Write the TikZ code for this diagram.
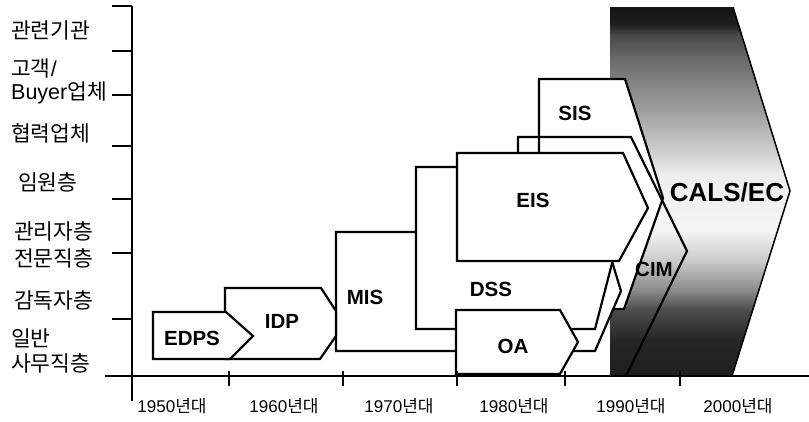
\documentclass[tikz,border=0pt]{standalone}
\usepackage{fontspec}
\setmainfont{Liberation Sans}
\newfontfamily\kr{Noto Sans CJK KR}
\newcommand{\yrtext}[1]{#1{\kr 년대}}
\begin{document}
\begin{tikzpicture}[x=1pt,y=-1pt,
  box/.style={draw=black,line width=2.2pt,fill=white,line join=miter},
  lbl/.style={font=\fontsize{20.5}{22}\selectfont\bfseries,inner sep=0pt},
  side/.style={font=\fontsize{21.5}{23}\selectfont\kr,anchor=west,inner sep=0pt},
  yearlbl/.style={font=\fontsize{17}{19}\selectfont,inner sep=0pt},
  axisline/.style={line width=1.4pt}]
\useasboundingbox (0,0) rectangle (809,421);

% CALS/EC band with vertical grey gradient (drawn as thin strips)
\begin{scope}
\clip (610,7) -- (733,7) -- (790,191) -- (732,376) -- (610,376) -- cycle;
\foreach \ya/\ga/\yb/\gb in {7/92/25/88, 25/88/35/72, 35/72/60/58, 60/58/110/38,
   110/38/150/20, 150/20/175/7, 175/7/230/4, 230/4/260/20, 260/20/290/45,
   290/45/310/70, 310/70/340/85, 340/85/376/88}{
  \pgfmathtruncatemacro{\nst}{max(1,(\yb-\ya)/2)}
  \foreach \k in {1,...,\nst}{
    \pgfmathsetmacro{\yc}{\ya+(\k-1)*(\yb-\ya)/\nst}
    \pgfmathsetmacro{\yd}{\yc+(\yb-\ya)/\nst+0.7}
    \pgfmathsetmacro{\gc}{\ga+(\k-0.5)*(\gb-\ga)/\nst}
    \fill[black!\gc] (600,\yc) rectangle (800,\yd);
  }
}
\end{scope}
\draw[line width=1.5pt] (733,7) -- (790,191) -- (732,376);

% SIS
\draw[box] (539,309) -- (539,79) -- (625,79) -- (663,198) -- (624,309) -- cycle;
% CIM (outline only)
\draw[line width=2.2pt] (518,376) -- (518,137) -- (631,137) -- (687,251) -- (626,376);
% MIS
\draw[box] (336,232) -- (603,232) -- (621,291) -- (595,351) -- (336,351) -- cycle;
% DSS
\draw[box] (416,167) -- (595,167) -- (616,248) -- (595,329) -- (416,329) -- cycle;
% EIS
\draw[box] (457,153) -- (623,153) -- (648,208) -- (619,261) -- (457,261) -- cycle;
% OA
\draw[box] (456,310) -- (560,310) -- (578,342) -- (560,374) -- (456,374) -- cycle;
% IDP
\draw[box] (225,288) -- (321,288) -- (336,311) -- (336,336) -- (320,359) -- (225,359) -- cycle;
% EDPS
\draw[box] (153,312) -- (226,312) -- (253,336) -- (230,359) -- (153,359) -- cycle;

% axes
\draw[axisline] (105,376) -- (809,376);
\draw[axisline] (132,6) -- (132,401);
\foreach \yy in {6,51,95,146,199,253,319} \draw[axisline] (112,\yy) -- (132,\yy);
\foreach \xx in {229,343,457,565,680} \draw[axisline] (\xx,371) -- (\xx,386);

% system labels
\node[lbl] (edps) at (192,338) {EDPS};
\node[lbl] (idp) at (282,321) {IDP};
\node[lbl] (mis) at (365,297) {MIS};
\node[lbl] (dss) at (491,289) {DSS};
\node[lbl] (oa) at (513,346) {OA};
\node[lbl] (eis) at (533,200) {EIS};
\node[lbl] (sis) at (575,113) {SIS};
\node[lbl] (cim) at (654,269) {CIM};
\node[lbl,font=\fontsize{26}{28}\selectfont\bfseries] (cals) at (727,192) {CALS/EC};

% level labels
\node[side] (l1) at (11,30) {관련기관};
\node[side] (l2a) at (11,68) {고객{\rmfamily /}};
\node[side] (l2b) at (11,93) {{\rmfamily Buyer}업체};
\node[side] (l3) at (11,133) {협력업체};
\node[side] (l4) at (18,182) {임원층};
\node[side] (l5) at (14,231) {관리자층};
\node[side] (l6) at (14,258) {전문직층};
\node[side] (l7) at (14,300) {감독자층};
\node[side] (l8) at (11,338) {일반};
\node[side] (l9) at (11,363) {사무직층};

% decade labels
\node[yearlbl] (y50) at (172,406) {\yrtext{1950}};
\node[yearlbl] (y60) at (284,406) {\yrtext{1960}};
\node[yearlbl] (y70) at (399,406) {\yrtext{1970}};
\node[yearlbl] (y80) at (514,406) {\yrtext{1980}};
\node[yearlbl] (y90) at (631,406) {\yrtext{1990}};
\node[yearlbl] (y00) at (738,406) {\yrtext{2000}};
\end{tikzpicture}
\end{document}
